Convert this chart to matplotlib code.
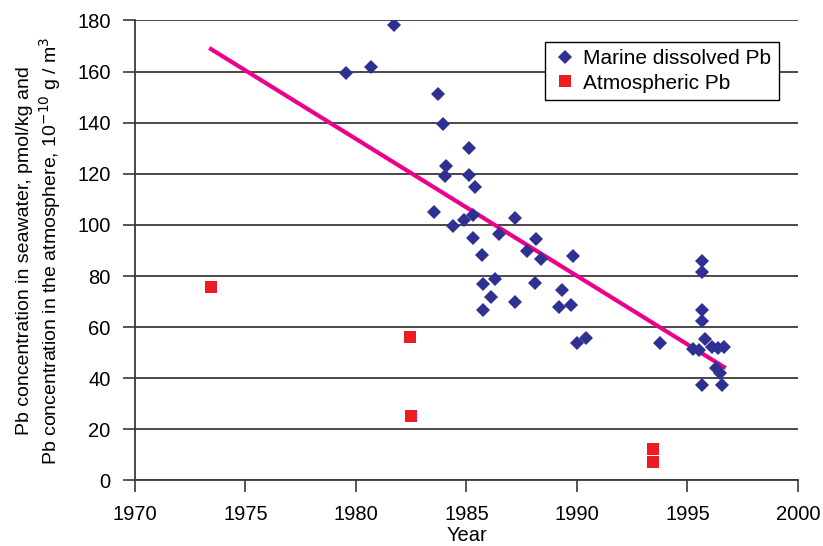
import matplotlib
matplotlib.use('Agg')
import matplotlib.pyplot as plt

plt.rcParams['font.family'] = ['Liberation Sans', 'DejaVu Sans']

# marine dissolved Pb, pmol/kg
marine_year = [1979.55, 1980.68, 1981.72, 1983.71, 1983.94, 1984.07, 1984.03, 1985.11, 1985.11, 1985.38,
               1983.53, 1984.39, 1984.89, 1985.29, 1985.29, 1985.70, 1986.47, 1985.75, 1986.11, 1986.29,
               1985.75, 1987.19, 1987.19, 1987.74, 1988.14, 1988.37, 1988.10, 1989.32, 1989.19, 1989.73,
               1989.82, 1990.00, 1990.41, 1993.76, 1995.25, 1995.52, 1995.66, 1995.66, 1995.66, 1995.66,
               1995.79, 1996.11, 1996.38, 1996.65, 1996.29, 1996.47, 1995.66, 1996.56]
marine_pb = [159.4, 161.8, 178.2, 151.2, 139.4, 123, 119.1, 130, 119.4, 115,
             105.1, 99.6, 101.9, 103.9, 94.9, 88.2, 96.4, 76.9, 71.8, 78.8,
             66.7, 102.7, 69.9, 89.6, 94.3, 86.5, 77.3, 74.5, 67.9, 68.7,
             87.8, 53.8, 55.8, 53.8, 51.4, 51, 85.9, 81.6, 66.7, 62.4,
             55.4, 52.2, 51.8, 52.2, 44, 42.1, 37.4, 37.4]

# atmospheric Pb, 1e-10 g/m3
atm_year = [1973.44, 1982.44, 1982.49, 1993.44, 1993.44]
atm_pb = [75.7, 56, 25.4, 12.5, 7.4]

# trend line end points
trend_year = [1973.44, 1996.65]
trend_pb = [168.8, 44.4]

fig = plt.figure(figsize=(8.23, 5.46), dpi=100)
ax = fig.add_axes([0.164, 0.12, 0.8056, 0.8425])

ax.grid(axis='y', color='#3a3a3a', linewidth=1.3, zorder=0)
ax.plot(trend_year, trend_pb, color='#EC008C', linewidth=3, zorder=2)
ax.plot(marine_year, marine_pb, 'D', color='#2E3192', markersize=7.2, markeredgewidth=0,
        linestyle='none', label='Marine dissolved Pb', zorder=3)
ax.plot(atm_year, atm_pb, 's', color='#ED1C24', markersize=8, markeredgewidth=0,
        linestyle='none', label='Atmospheric Pb', zorder=3)

ax.set_xlim(1970, 2000)
ax.set_ylim(0, 180)
ax.set_xticks(range(1970, 2001, 5))
ax.set_yticks(range(0, 181, 20))
ax.tick_params(labelsize=14.5, direction='out', length=8.5, width=1.2, color='#3a3a3a')
ax.tick_params(axis='x', pad=9.5)
ax.tick_params(axis='y', pad=9)
ax.spines['top'].set_visible(False)
ax.spines['right'].set_visible(False)
for s in ['left', 'bottom']:
    ax.spines[s].set_color('#3a3a3a')
    ax.spines[s].set_linewidth(1.3)

ax.set_xlabel('Year', fontsize=14.5, labelpad=1)
ax.set_ylabel('Pb concentration in seawater, pmol/kg and\n'
              'Pb concentration in the atmosphere, 10$^{-10}$ g / m$^{3}$',
              fontsize=14, labelpad=10)

leg = ax.legend(loc='upper right', bbox_to_anchor=(0.971, 0.953), fontsize=15,
                fancybox=False, framealpha=1, edgecolor='black', borderaxespad=0,
                handletextpad=0.3, borderpad=0.35, labelspacing=0.25, handlelength=1.2)
leg.get_frame().set_linewidth(1.0)

fig.savefig('out.png', dpi=100)
